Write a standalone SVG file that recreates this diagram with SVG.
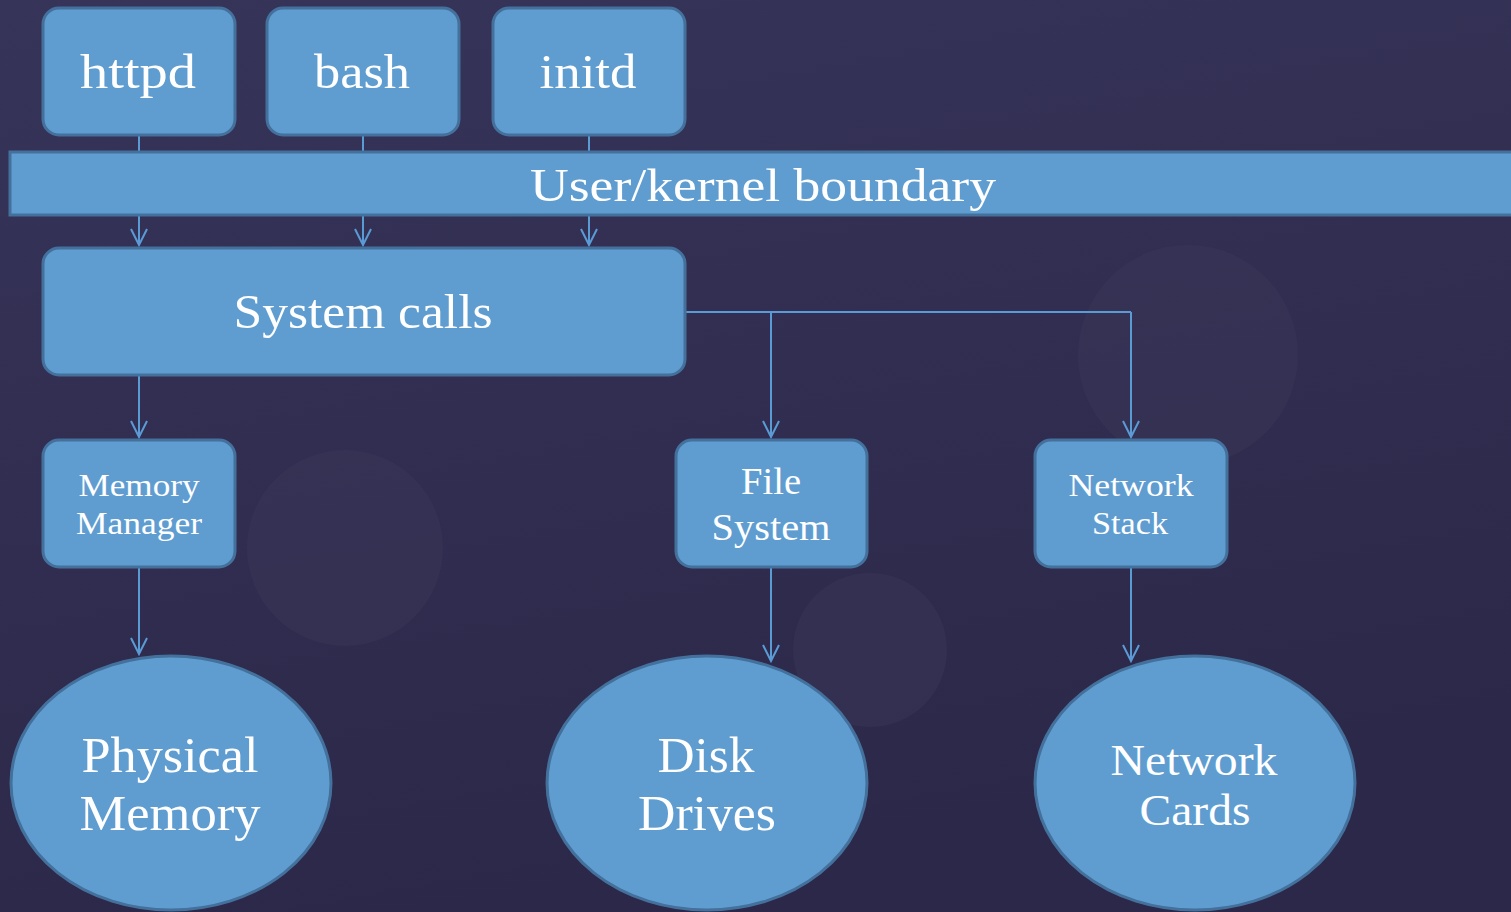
<svg xmlns="http://www.w3.org/2000/svg" width="1511" height="912" viewBox="0 0 1511 912">
<defs>
<linearGradient id="bg" x1="0" y1="0" x2="0.3" y2="1">
<stop offset="0" stop-color="#37345a"/>
<stop offset="1" stop-color="#2b2849"/>
</linearGradient>
<marker id="arr" markerUnits="userSpaceOnUse" markerWidth="20" markerHeight="20" viewBox="-18 -10 20 20" refX="0" refY="0" orient="auto">
<path d="M-16,-8 L0,0 L-16,8" fill="none" stroke="#5b9bd5" stroke-width="2"/>
</marker>
<style>
.box{fill:#5f9dd1;stroke:#44709c;stroke-width:3}
.t{font-family:"Liberation Serif","DejaVu Serif",serif;fill:#ffffff;text-anchor:middle}
.c{fill:none;stroke:#5b9bd5;stroke-width:2}
.deco{fill:#3b3858;opacity:0.45}
</style>
</defs>
<rect x="0" y="0" width="1511" height="912" fill="url(#bg)"/>
<circle class="deco" cx="345" cy="548" r="98"/>
<circle class="deco" cx="870" cy="650" r="77"/>
<circle class="deco" cx="1188" cy="355" r="110"/>

<g id="connectors">
<line class="c" x1="139" y1="136" x2="139" y2="245" marker-end="url(#arr)"/>
<line class="c" x1="363" y1="136" x2="363" y2="245" marker-end="url(#arr)"/>
<line class="c" x1="589" y1="136" x2="589" y2="245" marker-end="url(#arr)"/>
<line class="c" x1="139" y1="376" x2="139" y2="437" marker-end="url(#arr)"/>
<polyline class="c" points="686,312 1131,312"/>
<line class="c" x1="771" y1="312" x2="771" y2="437" marker-end="url(#arr)"/>
<line class="c" x1="1131" y1="312" x2="1131" y2="437" marker-end="url(#arr)"/>
<line class="c" x1="139" y1="568" x2="139" y2="654" marker-end="url(#arr)"/>
<line class="c" x1="771" y1="568" x2="771" y2="661" marker-end="url(#arr)"/>
<line class="c" x1="1131" y1="568" x2="1131" y2="661" marker-end="url(#arr)"/>
</g>

<g id="band">
<rect class="box" x="10" y="152" width="1510" height="63" rx="0"/>
<text class="t" x="763" y="201" font-size="46" textLength="466" lengthAdjust="spacingAndGlyphs">User/kernel boundary</text>
</g>

<g id="httpd">
<rect class="box" x="43" y="8" width="192" height="127" rx="16"/>
<text class="t" x="138" y="88" font-size="48" textLength="116" lengthAdjust="spacingAndGlyphs">httpd</text>
</g>
<g id="bash">
<rect class="box" x="267" y="8" width="192" height="127" rx="16"/>
<text class="t" x="362" y="88" font-size="48" textLength="96" lengthAdjust="spacingAndGlyphs">bash</text>
</g>
<g id="initd">
<rect class="box" x="493" y="8" width="192" height="127" rx="16"/>
<text class="t" x="588" y="88" font-size="48" textLength="97" lengthAdjust="spacingAndGlyphs">initd</text>
</g>

<g id="syscalls">
<rect class="box" x="43" y="248" width="642" height="127" rx="16"/>
<text class="t" x="363" y="328" font-size="48" textLength="259" lengthAdjust="spacingAndGlyphs">System calls</text>
</g>

<g id="memmgr">
<rect class="box" x="43" y="440" width="192" height="127" rx="16"/>
<text class="t" x="139" y="496" font-size="32" textLength="121" lengthAdjust="spacingAndGlyphs">Memory</text>
<text class="t" x="139" y="534" font-size="32" textLength="126" lengthAdjust="spacingAndGlyphs">Manager</text>
</g>
<g id="filesys">
<rect class="box" x="676" y="440" width="191" height="127" rx="16"/>
<text class="t" x="771" y="494" font-size="37" textLength="60" lengthAdjust="spacingAndGlyphs">File</text>
<text class="t" x="771" y="540" font-size="37" textLength="119" lengthAdjust="spacingAndGlyphs">System</text>
</g>
<g id="netstack">
<rect class="box" x="1035" y="440" width="192" height="127" rx="16"/>
<text class="t" x="1131" y="496" font-size="32" textLength="125" lengthAdjust="spacingAndGlyphs">Network</text>
<text class="t" x="1130" y="534" font-size="32" textLength="76" lengthAdjust="spacingAndGlyphs">Stack</text>
</g>

<g id="physmem">
<ellipse class="box" cx="171" cy="783" rx="160" ry="127"/>
<text class="t" x="170" y="772" font-size="50" textLength="177" lengthAdjust="spacingAndGlyphs">Physical</text>
<text class="t" x="170" y="830" font-size="50" textLength="181" lengthAdjust="spacingAndGlyphs">Memory</text>
</g>
<g id="disk">
<ellipse class="box" cx="707" cy="783" rx="160" ry="127"/>
<text class="t" x="706" y="772" font-size="50" textLength="97" lengthAdjust="spacingAndGlyphs">Disk</text>
<text class="t" x="707" y="830" font-size="50" textLength="138" lengthAdjust="spacingAndGlyphs">Drives</text>
</g>
<g id="netcards">
<ellipse class="box" cx="1195" cy="783" rx="160" ry="127"/>
<text class="t" x="1194" y="775" font-size="45" textLength="167" lengthAdjust="spacingAndGlyphs">Network</text>
<text class="t" x="1195" y="825" font-size="45" textLength="111" lengthAdjust="spacingAndGlyphs">Cards</text>
</g>
</svg>
